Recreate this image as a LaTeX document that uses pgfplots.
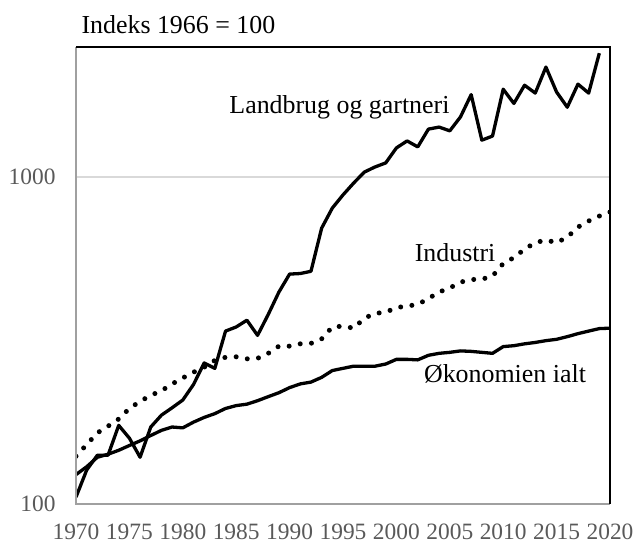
\documentclass[border=0pt]{standalone}
\usepackage{fontspec}
\setmainfont{Liberation Serif}
\usepackage{pgfplots}
\pgfplotsset{compat=1.18}
\definecolor{tickgrey}{HTML}{595959}
\definecolor{axgrey}{HTML}{A0A0A0}
\definecolor{gridgrey}{HTML}{D9D9D9}
\begin{document}
\begin{tikzpicture}
\begin{axis}[
 name=ax,
 scale only axis,
 width=534bp, height=457bp,
 ymode=log,
 xmin=1970, xmax=2020,
 ymin=100, ymax=2500,
 xtick={1970,1975,...,2020},
 xticklabels={1970,1975,1980,1985,1990,1995,2000,2005,2010,2015,2020},
 ytick={100,1000},
 yticklabels={100,1000},
 minor ytick={},
 major tick length=0pt,
 minor tick length=0pt,
 ymajorgrids, grid style={gridgrey, line width=1.2bp},
 axis line style={draw=none},
 /pgf/number format/assume math mode=true,
 tick label style={font=\fontsize{23.5}{28}\selectfont, text=tickgrey},
 xticklabel style={yshift=-16bp},
 yticklabel style={xshift=-17bp},
]
\addplot[black, line width=3.3bp, line join=round] coordinates {
(1970,105) (1971,127) (1972,141) (1973,141) (1974,174) (1975,159) (1976,139) (1977,172) (1978,187) (1979,197)
(1980,208) (1981,232) (1982,270) (1983,260) (1984,338) (1985,348) (1986,365) (1987,328) (1988,380) (1989,445)
(1990,505) (1991,507) (1992,515) (1993,698) (1994,804) (1995,882) (1996,959) (1997,1036) (1998,1074) (1999,1105)
(2000,1228) (2001,1290) (2002,1237) (2003,1402) (2004,1422) (2005,1385) (2006,1528) (2007,1788) (2008,1297) (2009,1335)
(2010,1857) (2011,1680) (2012,1910) (2013,1807) (2014,2170) (2015,1820) (2016,1636) (2017,1925) (2018,1807) (2019,2393)
};
\addplot[black, line width=5bp, line cap=round, dash pattern=on 0bp off 11.3bp] coordinates {
(1970,140) (1971,152) (1972,165) (1973,173) (1974,182) (1975,196) (1976,206) (1977,215) (1978,222) (1979,233)
(1980,243) (1981,253) (1982,262) (1983,275) (1984,281) (1985,282) (1986,278) (1987,279) (1988,289) (1989,304)
(1990,304) (1991,309) (1992,310) (1993,320) (1994,348) (1995,350) (1996,345) (1997,370) (1998,383) (1999,386)
(2000,399) (2001,403) (2002,408) (2003,425) (2004,445) (2005,458) (2006,477) (2007,486) (2008,487) (2009,498)
(2010,544) (2011,567) (2012,602) (2013,630) (2014,642) (2015,630) (2016,655) (2017,703) (2018,734) (2019,760) (2020,782)
};
\addplot[black, line width=3.3bp, line join=round] coordinates {
(1970,123) (1971,130) (1972,139) (1973,142) (1974,146) (1975,151) (1976,156) (1977,162) (1978,168) (1979,172)
(1980,171) (1981,178) (1982,184) (1983,189) (1984,196) (1985,200) (1986,202) (1987,207) (1988,213) (1989,219)
(1990,227) (1991,233) (1992,236) (1993,244) (1994,256) (1995,260) (1996,264) (1997,264) (1998,264) (1999,268)
(2000,277) (2001,277) (2002,276) (2003,285) (2004,289) (2005,291) (2006,294) (2007,293) (2008,291) (2009,289)
(2010,303) (2011,305) (2012,309) (2013,312) (2014,316) (2015,319) (2016,325) (2017,332) (2018,338) (2019,344) (2020,345)
};
\node[anchor=base, font=\fontsize{26}{30}\selectfont] at (axis cs:1994.67,1570) {Landbrug og gartneri};
\node[anchor=base, font=\fontsize{26}{30}\selectfont] at (axis cs:2005.5,550) {Industri};
\node[anchor=base, font=\fontsize{26}{30}\selectfont] at (axis cs:2010.17,235) {Økonomien ialt};
\end{axis}
\draw[axgrey, line width=2.5bp] (ax.north west) -- (ax.south west) -- (ax.south east);
\draw[black, line width=2bp] (ax.north west) -- (ax.north east) -- (ax.south east);
\node[anchor=base west, font=\fontsize{26}{30}\selectfont] at ([shift={(2bp,13bp)}]ax.north west) {Indeks 1966 = 100};
\path[use as bounding box] ([shift={(-76bp,-38bp)}]ax.south west) rectangle ([shift={(27bp,47bp)}]ax.north east);
\end{tikzpicture}
\end{document}
